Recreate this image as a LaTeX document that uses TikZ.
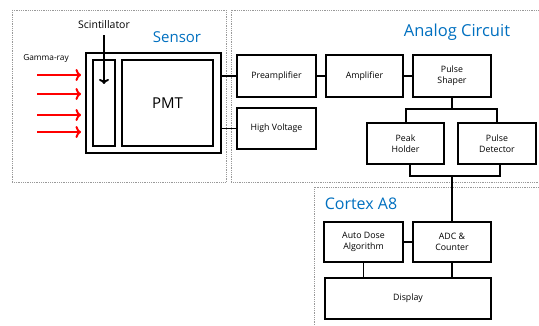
\documentclass[tikz,border=0pt]{standalone}
\usepackage{fontspec}
\setmainfont{Open Sans}
\usetikzlibrary{arrows.meta}
\definecolor{titleblue}{RGB}{0,112,192}
\begin{document}
\begin{tikzpicture}[x=1pt,y=-1pt,
  blk/.style={draw, line width=1.9pt, inner sep=0pt, align=center,
    font=\fontsize{8.8}{10.8}\selectfont},
  zone/.style={draw=gray!80, densely dotted, line width=0.8pt},
  ttl/.style={text=titleblue, inner sep=0pt, font=\fontsize{15}{18}\selectfont},
  lbl/.style={inner sep=0pt},
  wire/.style={line width=1.9pt},
  ray/.style={draw=red, line width=2pt, -{To[length=5.5pt,width=12pt,line width=2pt]}}]
\clip (0,0) rectangle (539,326);
\fill[white] (0,0) rectangle (539,326);

% dotted zones
\draw[zone] (12,10) rectangle (226,182.5);
\draw[zone] (231,10) rectangle (548,182.5);
\draw[zone] (314,187.5) rectangle (548,335);

% titles
\node[ttl] (tsensor) at (177,37) {Sensor};
\node[ttl, font=\fontsize{16.5}{19}\selectfont] (tanalog) at (457,32) {Analog Circuit};
\node[ttl, font=\fontsize{16}{19}\selectfont] (tcortex) at (361,204) {Cortex A8};

% sensor
\node[blk, minimum width=135pt, minimum height=100pt] (sens) at (153.5,103) {};
\node[blk, minimum width=22pt, minimum height=86pt] (scint) at (104,103) {};
\node[blk, minimum width=91pt, minimum height=86pt, font=\fontsize{15}{18}\selectfont] (pmt) at (167.5,103) {PMT};
\node[lbl, font=\fontsize{10.5}{12}\selectfont] (scl) at (104,25) {Scintillator};
\coordinate (scend) at (104,84);
\draw[line width=1.9pt, -{To[length=5pt,width=10pt,line width=1.9pt]}] (scl.south -| scend) ++(0,6) -- (scend);

\node[lbl, font=\fontsize{8.3}{10}\selectfont] (gamma) at (46,58) {Gamma-ray};
\foreach \y [count=\i] in {75,94,115,132}{
  \coordinate (rs\i) at (37,\y);
  \coordinate (re\i) at (81,\y);
  \draw[ray] (rs\i) -- (re\i);
}

% analog chain
\node[blk, minimum width=79pt, minimum height=42pt] (pre) at (276.5,76) {Preamplifier};
\node[blk, minimum width=77pt, minimum height=42pt] (amp) at (364.5,76) {Amplifier};
\node[blk, minimum width=78pt, minimum height=42pt] (shp) at (452,76) {Pulse\\Shaper};
\node[blk, minimum width=79pt, minimum height=41pt] (hv) at (276.5,128.5) {High Voltage};
\node[blk, minimum width=77pt, minimum height=41pt] (pk) at (405.5,143.5) {Peak\\Holder};
\node[blk, minimum width=78pt, minimum height=41pt] (pd) at (497,143.5) {Pulse\\Detector};

% cortex
\node[blk, minimum width=79pt, minimum height=40pt] (ado) at (363.5,242) {Auto Dose\\Algorithm};
\node[blk, minimum width=78pt, minimum height=40pt] (adc) at (452,242) {ADC \&\\Counter};
\node[blk, minimum width=166pt, minimum height=41pt] (dsp) at (408,298.5) {Display};

% wiring
\draw[wire] (sens.east |- pre) -- (pre.west);
\draw[wire] (sens.east |- hv) -- (hv.west);
\draw[wire] (pre) -- (amp);
\draw[wire] (amp) -- (shp);
\coordinate (split) at (452,109);
\coordinate (jl) at (410,176);
\coordinate (jr) at (500,176);
\draw[wire] (shp.south) -- (split);
\draw[wire] (pk.north -| 406,0) |- (split) -| (pd.north);
\coordinate (join) at (452,176);
\draw[wire] (pk.south -| jl) -- (jl) -- (jr) -- (pd.south -| jr);
\draw[wire] (join) -- (adc.north);
\draw[wire] (ado) -- (adc);
\draw[wire] (ado.south) -- (ado.south |- dsp.north);
\draw[wire] (adc.south) -- (adc.south |- dsp.north);
\end{tikzpicture}
\end{document}
